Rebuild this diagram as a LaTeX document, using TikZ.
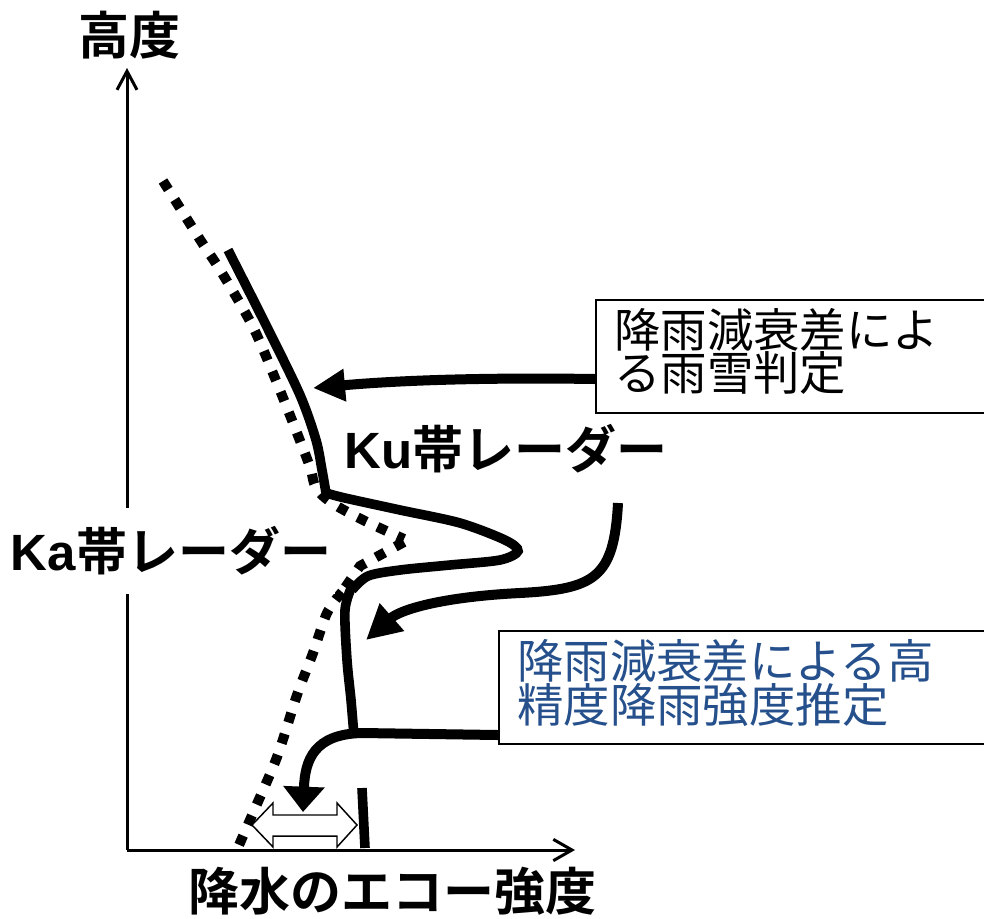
\documentclass[tikz,border=0pt]{standalone}
\usepackage{fontspec}
\setmainfont{Noto Sans CJK JP}[BoldFont={Noto Sans CJK JP Bold}]
\newfontfamily\latinb{Liberation Sans}[BoldFont={Liberation Sans Bold}]
\usetikzlibrary{arrows.meta,calc}
\definecolor{boxblue}{RGB}{37,80,140}
\begin{document}
\begin{tikzpicture}[x=0.75pt,y=-0.75pt,
  axisline/.style={line width=2.25pt,black},
  kuline/.style={line width=7.2pt,black},
  kaline/.style={line width=7.5pt,black,dash pattern=on 7.5pt off 9pt},
  bigarrow/.style={line width=7.5pt,black},
  infobox/.style={draw,line width=1.5pt,anchor=north west,inner sep=0pt},
  boldlabel/.style={font=\bfseries\fontsize{38.25}{40}\selectfont,inner sep=0pt},
  boxtext/.style={font=\fontsize{34.8}{32.3}\selectfont,align=left,inner sep=0pt,anchor=west}]
\useasboundingbox (0,0) rectangle (984,918);
\clip (0,0) rectangle (984,918);
% axes
\coordinate (origin) at (127,850);
\coordinate (ytop) at (127,68);
\coordinate (xend) at (575,850);
\draw[axisline,-{Straight Barb[length=14pt,width=15pt,line width=2.25pt]}] (origin) -- (ytop);
\draw[axisline,-{Straight Barb[length=14pt,width=16pt,line width=2.25pt]}] (origin) -- (xend);
\node[boldlabel] (ylab) at (129,35) {高度};
\node[boldlabel] (xlab) at (392,891) {降水のエコー強度};
% Ka radar (dotted)
\draw[kaline] plot[smooth] coordinates {(163,181) (199,238) (222,273) (253,327) (277,383) (297,433) (310,467) (316,488) (332,503) (363,520) (404,539)};
\draw[kaline] (404,542) -- (360,566) -- (342,592);
\draw[kaline] plot[smooth] coordinates {(342,592) (327,613) (313,653) (297,695) (277,757) (253,813) (236,852)};
% Ku radar (solid)
\draw[kuline] plot[smooth] coordinates {(228,250) (267,327) (300,395) (316,440) (322,470) (326,493)};
\draw[kuline] plot[smooth] coordinates {(326,493) (345,498) (400,510) (460,523) (505,540) (518,551) (500,560) (450,565) (400,570) (368,576) (352,590)};
\draw[kuline] plot[smooth] coordinates {(352,586) (345,610) (347,660) (351,700) (354,736)};
\draw[kuline] (362,788) -- (365,848);
% labels
\node[boldlabel,fill=white,minimum height=64pt,inner xsep=3pt] (kalab) at (171,551) {{\latinb\bfseries Ka}帯レーダー};
\node[boldlabel] (kulab) at (506,449) {{\latinb\bfseries Ku}帯レーダー};
% boxes
\node[infobox,minimum width=300pt,minimum height=84.75pt] (box1) at (595,299) {};
\node[boxtext] (box1text) at (614,351) {降雨減衰差によ\\る雨雪判定};
\node[infobox,minimum width=369pt,minimum height=84.75pt] (box2) at (498,630) {};
\node[boxtext,text=boxblue] (box2text) at (517,683) {降雨減衰差による高\\精度降雨強度推定};
% arrows
\coordinate (tip1) at (313,388);
\coordinate (tip2) at (303,812);
\coordinate (tip3) at (366,640);
\coordinate (start3) at (618,503);
\draw[bigarrow,-{Triangle[length=24pt,width=23pt]}] ($(box1.south west)+(0,-35)$) .. controls (460,377) and (380,382) .. (tip1);
\draw[bigarrow,-{Triangle[length=19pt,width=30pt]}] ($(box2.south west)+(0,-10)$) -- (362,733) .. controls (314,734) and (305,760) .. (tip2);
\draw[bigarrow,-{Triangle[length=26pt,width=26pt]}] (start3) .. controls (614,578) and (595,589) .. (520,593) .. controls (440,597) and (400,610) .. (tip3);
% double-headed open arrow
\draw[line width=1.1pt,fill=white] (252,825) -- (273,803) -- (273,815) -- (337,815) -- (337,803) -- (357,825) -- (337,847) -- (337,836) -- (273,836) -- (273,847) -- cycle;
\end{tikzpicture}
\end{document}
